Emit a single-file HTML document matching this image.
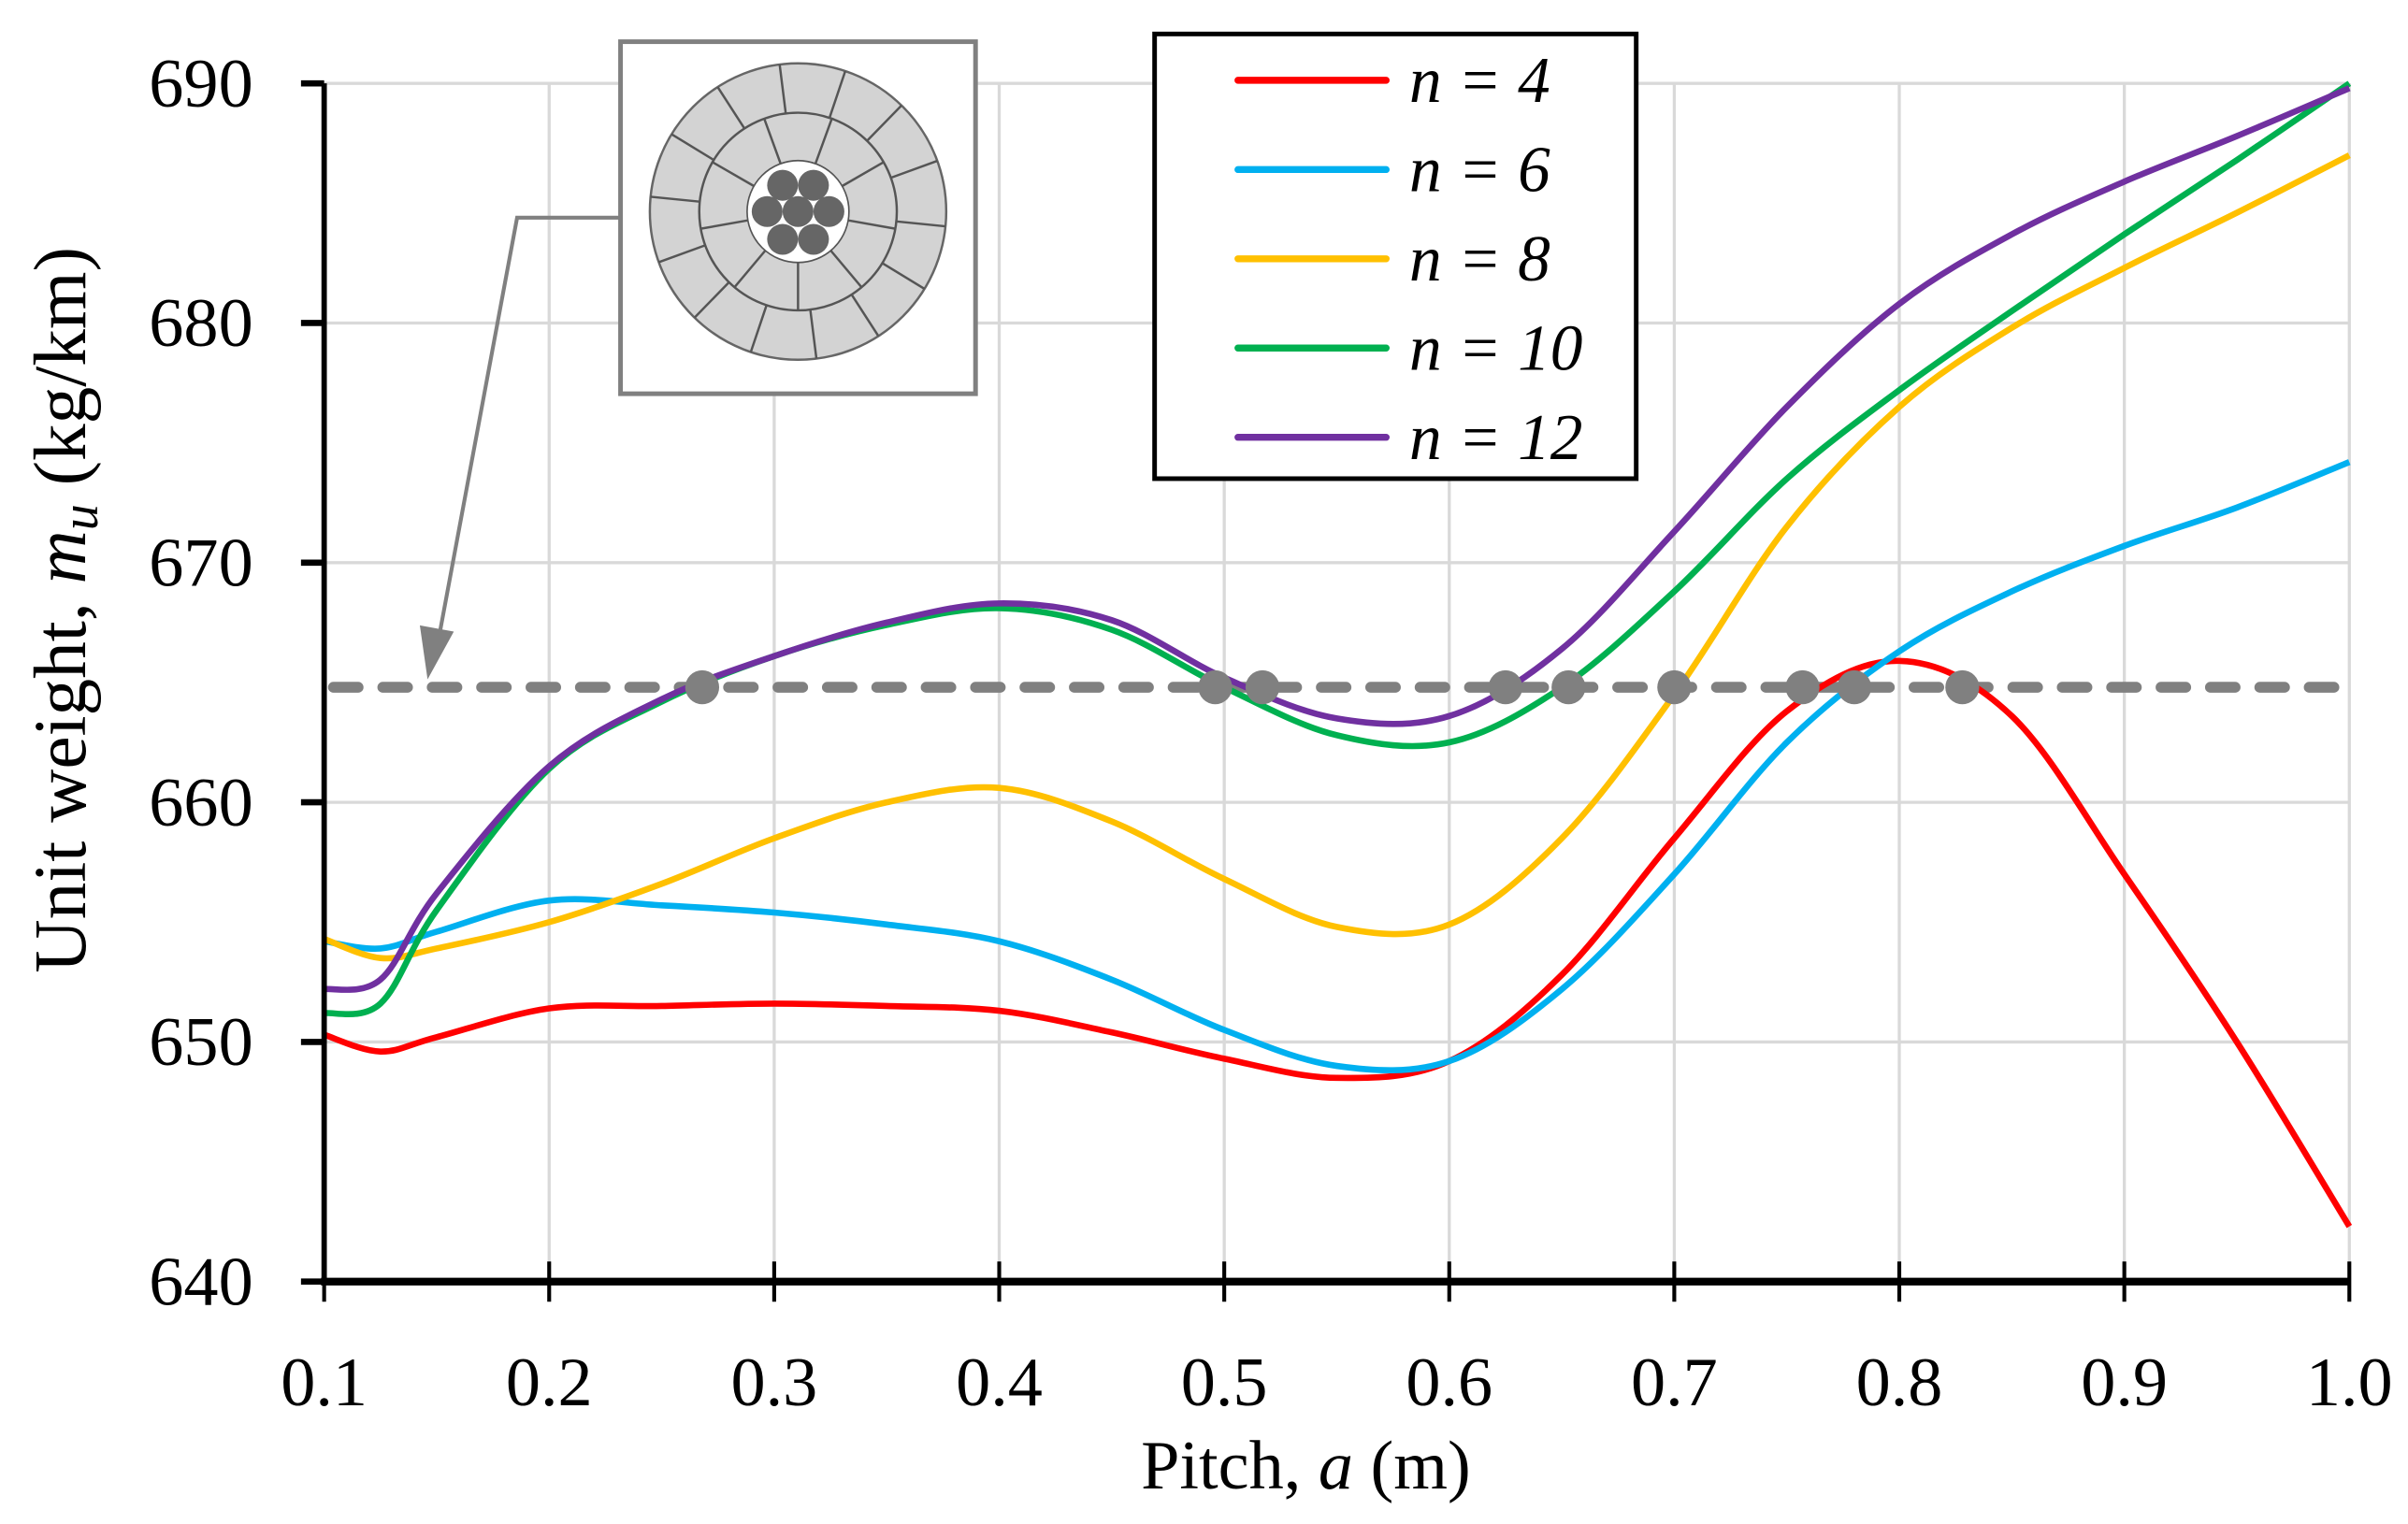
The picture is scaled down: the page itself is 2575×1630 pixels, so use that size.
<!DOCTYPE html>
<html><head><meta charset="utf-8"><style>
html,body{margin:0;padding:0;background:#fff}
svg{display:block}
text{font-family:"Liberation Serif",serif;fill:#000}
</style></head><body>
<svg id="chart" width="2575" height="1630" viewBox="0 0 1560 987" preserveAspectRatio="none" xmlns="http://www.w3.org/2000/svg">
<g id="grid"></g>
<g id="refline"></g>
<g id="series"></g>
<g id="markers"></g>
<g id="axes"></g>
<text transform="translate(55,395) rotate(-90)" text-anchor="middle" font-size="48">Unit weight, <tspan font-style="italic">m<tspan font-size="34" dy="8">u</tspan></tspan><tspan dy="-8"> (kg/km)</tspan></text>
<text x="846" y="964" text-anchor="middle" font-size="45">Pitch, <tspan font-style="italic">a</tspan> (m)</text>
<g>
<rect x="402" y="27" width="230" height="228" fill="#fff" stroke="#808080" stroke-width="3"/>
<circle cx="517" cy="137" r="96" fill="#d3d3d3" stroke="#666" stroke-width="1.5"/>
<circle cx="517" cy="137" r="64" fill="#d3d3d3" stroke="#555" stroke-width="1.5"/>
<g id="segs" stroke="#555" stroke-width="1.5"></g>
<circle cx="517" cy="137" r="33" fill="#fff" stroke="#555" stroke-width="1"/>
<g fill="#666">
<circle cx="517" cy="137" r="10"/><circle cx="537" cy="137" r="10"/><circle cx="497" cy="137" r="10"/>
<circle cx="507" cy="120" r="10"/><circle cx="527" cy="120" r="10"/><circle cx="507" cy="155" r="10"/><circle cx="527" cy="155" r="10"/>
</g>
</g>
<g fill="none" stroke="#808080" stroke-width="2.5">
<polyline points="402,141 335,141 283,420"/>
<polygon points="277,440 272,405 294,409" fill="#808080" stroke="none"/>
</g>
<g>
<rect x="748" y="22" width="312" height="288" fill="#fff" stroke="#000" stroke-width="3"/>
<g id="legend-items"></g>
</g>
</svg>
<script>
const xs=[0.1,0.125,0.15,0.2,0.25,0.3,0.35,0.4,0.45,0.5,0.55,0.6,0.65,0.7,0.75,0.8,0.85,0.9,0.95,1.0];
const n4=[650.3,649.6,650.2,651.4,651.5,651.6,651.5,651.3,650.4,649.3,648.5,649.2,652.8,658.5,663.8,665.9,663.6,657.0,650.0,642.3];
const n6=[654.2,653.9,654.6,655.9,655.7,655.4,654.9,654.2,652.6,650.5,649.0,649.2,652.2,657.0,662.5,666.3,668.8,670.7,672.3,674.2];
const n8=[654.3,653.5,653.9,655.0,656.6,658.5,660.0,660.6,659.2,656.8,654.8,654.9,658.5,664.5,671.5,676.5,679.8,682.3,684.6,687.0];
const n10=[651.2,651.6,655.5,661.4,664.2,666.1,667.4,668.1,667.2,664.8,662.8,662.5,664.8,668.8,673.5,677.2,680.5,683.7,686.8,690.0];
const n12=[652.2,652.6,656.2,661.5,664.3,666.1,667.5,668.3,667.6,665.2,663.5,663.6,666.4,671.3,676.5,680.8,683.7,685.9,687.8,689.8];
const refValue=664.8;
const markerX=[0.268,0.496,0.517,0.625,0.653,0.700,0.757,0.780,0.828];
const xTicks=[0.1,0.2,0.3,0.4,0.5,0.6,0.7,0.8,0.9,1.0];
const yTicks=[640,650,660,670,680,690];
const seriesNames=["n = 4","n = 6","n = 8","n = 10","n = 12"];
const seriesColors=["#ff0000","#00b0f0","#ffc000","#00b050","#7030a0"];
const seriesData=[n4,n6,n8,n10,n12];

const NS="http://www.w3.org/2000/svg";
const X=v=>210+(v-0.1)/0.9*1312;
const Y=v=>830-(v-640)/50*776;
function mk(tag,attrs,parent){const e=document.createElementNS(NS,tag);for(const k in attrs)e.setAttribute(k,attrs[k]);parent.appendChild(e);return e;}
const grid=document.getElementById('grid');
xTicks.forEach(t=>{if(t>0.1){const l=mk('line',{x1:X(t),x2:X(t),y1:Y(690),y2:Y(640),stroke:'#d9d9d9','stroke-width':2},grid);

}});
yTicks.forEach(t=>{if(t>640){const l=mk('line',{x1:X(0.1),x2:X(1.0),y1:Y(t),y2:Y(t),stroke:'#d9d9d9','stroke-width':2},grid);

}});
const rl=mk('line',{x1:X(0.1)+6,x2:X(1.0),y1:Y(refValue),y2:Y(refValue),stroke:'#808080','stroke-width':7,'stroke-dasharray':'16 16','stroke-linecap':'round'},document.getElementById('refline'));


function pathFor(ys){const p=xs.map((x,i)=>[X(x),Y(ys[i])]);let d='M'+p[0][0]+','+p[0][1];
for(let i=0;i<p.length-1;i++){const p0=p[i-1]||p[i],p1=p[i],p2=p[i+1],p3=p[i+2]||p[i+1];
const c1=[p1[0]+(p2[0]-p0[0])/6,p1[1]+(p2[1]-p0[1])/6],c2=[p2[0]-(p3[0]-p1[0])/6,p2[1]-(p3[1]-p1[1])/6];
d+=` C${c1[0]},${c1[1]} ${c2[0]},${c2[1]} ${p2[0]},${p2[1]}`;}return d;}
const sg=document.getElementById('series');
seriesData.forEach((ys,i)=>{const p=mk('path',{d:pathFor(ys),fill:'none',stroke:seriesColors[i],'stroke-width':4},sg);

});
const mg=document.getElementById('markers');
markerX.forEach(x=>{const c=mk('circle',{cx:X(x),cy:Y(refValue),r:11,fill:'#808080'},mg);

});
const ax=document.getElementById('axes');
mk('line',{x1:X(0.1),x2:X(0.1),y1:Y(690),y2:Y(640)+2,stroke:'#000','stroke-width':3.5},ax);
mk('line',{x1:X(0.1)-2,x2:X(1.0)+1,y1:Y(640),y2:Y(640),stroke:'#000','stroke-width':5},ax);
yTicks.forEach(t=>{mk('line',{x1:X(0.1)-15,x2:X(0.1),y1:Y(t),y2:Y(t),stroke:'#000','stroke-width':4},ax);
const tx=mk('text',{x:164,y:Y(t)+15,'text-anchor':'end','font-size':45},ax);tx.textContent=t;

});
xTicks.forEach(t=>{mk('line',{x1:X(t),x2:X(t),y1:Y(640)-13,y2:Y(640)+13,stroke:'#000','stroke-width':2.5},ax);
const tx=mk('text',{x:X(t),y:910,'text-anchor':'middle','font-size':45},ax);tx.textContent=t.toFixed(1);

});
const lg=document.getElementById('legend-items');
seriesNames.forEach((nm,i)=>{const y=52+i*57.8;
const g=mk('g',{},lg);


mk('line',{x1:802,x2:898,y1:y,y2:y,stroke:seriesColors[i],'stroke-width':4.5,'stroke-linecap':'round'},g);
const t=mk('text',{x:913,y:y+14,'font-size':42,'font-style':'italic'},g);t.textContent=nm;});
const segs=document.getElementById('segs');
const cx=517,cy=137;
for(let k=0;k<14;k++){const a=(k/14)*2*Math.PI+0.1;mk('line',{x1:cx+64*Math.cos(a),y1:cy+64*Math.sin(a),x2:cx+96*Math.cos(a),y2:cy+96*Math.sin(a)},segs);}
for(let k=0;k<9;k++){const a=(k/9)*2*Math.PI+Math.PI/2;mk('line',{x1:cx+33*Math.cos(a),y1:cy+33*Math.sin(a),x2:cx+64*Math.cos(a),y2:cy+64*Math.sin(a)},segs);}
</script>
</body></html>
